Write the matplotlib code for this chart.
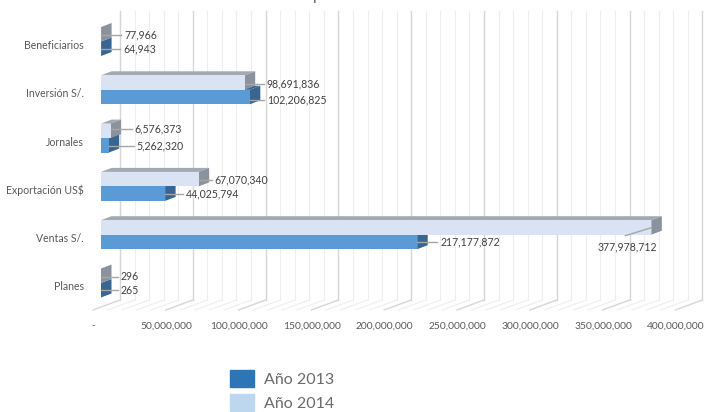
import matplotlib
matplotlib.use("Agg")
import matplotlib.pyplot as plt
from matplotlib.patches import Patch, Polygon

plt.rcParams['font.family'] = ['Lato', 'DejaVu Sans']

categories = ['Planes', 'Ventas S/.', 'Exportación US$', 'Jornales', 'Inversión S/.', 'Beneficiarios']
anio_2013 = [265, 217177872, 44025794, 5262320, 102206825, 64943]
anio_2014 = [296, 377978712, 67070340, 6576373, 98691836, 77966]
ticks = [0, 50000000, 100000000, 150000000, 200000000, 250000000, 300000000, 350000000, 400000000]
tick_labels = ['-', '50,000,000', '100,000,000', '150,000,000', '200,000,000',
               '250,000,000', '300,000,000', '350,000,000', '400,000,000']

# pixels per unit on each axis, the picture is a fake 3D chart
PX_X = 1.456e-6
PX_Y = 48.3
ZERO_X = 101
ZERO_Y = 283

fig = plt.figure(figsize=(7.05, 4.12), dpi=100)
ax = fig.add_axes([0, 0, 1, 1])
ax.set_xlim(-ZERO_X / PX_X, (705 - ZERO_X) / PX_X)
ax.set_ylim((ZERO_Y - 412) / PX_Y, ZERO_Y / PX_Y)
ax.axis('off')

def dx(px):
    return px / PX_X

def dy(px):
    return px / PX_Y

wall_top = ZERO_Y / PX_Y - dy(11)
wall_bottom = ZERO_Y / PX_Y - dy(300)
floor_bottom = ZERO_Y / PX_Y - dy(310)
axis_y = ZERO_Y / PX_Y - dy(326)

# back wall grid and floor lines
for v in range(0, 400000001, 10000000):
    major = v % 50000000 == 0
    col = '#d6d6d6' if major else '#eeeeee'
    lw = 1.0 if major else 0.8
    ax.plot([v + dx(19), v + dx(19)], [wall_top, wall_bottom], color=col, lw=lw, zorder=1)
    ax.plot([v + dx(19), v - dx(8)], [wall_bottom, floor_bottom], color=col, lw=lw, zorder=1)

for v, lab in zip(ticks, tick_labels):
    ax.text(v - dx(7.5), axis_y, lab, ha='center', va='center', fontsize=7.4, color='#595959')

bar_h = dy(14.5)
depth_x = dx(10.5)
depth_y = dy(4)

def draw_bars(values, ypos, front, side, top, z):
    for y, v in zip(ypos, values):
        y0 = y - bar_h / 2
        y1 = y + bar_h / 2
        ax.add_patch(Polygon([(0, y1), (depth_x, y1 + depth_y), (v + depth_x, y1 + depth_y), (v, y1)],
                             color=top, lw=0, zorder=z))
        ax.add_patch(Polygon([(v, y0), (v + depth_x, y0 + depth_y), (v + depth_x, y1 + depth_y), (v, y1)],
                             color=side, lw=0, zorder=z))
        ax.barh(y, v, height=bar_h, color=front, zorder=z)

pos = list(range(len(categories)))
pos_2013 = [p - bar_h / 2 for p in pos]
pos_2014 = [p + bar_h / 2 for p in pos]

draw_bars(anio_2013, pos_2013, '#5b9bd5', '#386591', '#386591', 3)
draw_bars(anio_2014, pos_2014, '#dae3f3', '#8b929d', '#a3a9b3', 4)

for p, c in zip(pos, categories):
    ax.text(-dx(17), p - dy(4), c, ha='right', va='center', fontsize=7.6, color='#595959')

# value labels: gap from bar end to text and height from the category centre, in pixels
gap_2013 = [20, 23, 21, 28, 17, 22]
rise_2013 = [7, 7, 7.5, 8, 10, 7.5]
gap_2014 = [20, -24, 16, 24, 22, 23]
rise_2014 = [-6, 12, -6.5, -9, -6, -6.5]

def draw_labels(values, gaps, rises):
    for p, v, g, r in zip(pos, values, gaps, rises):
        y = p - dy(r)
        txt = f"{v:,}"
        if g < 0:
            # the long bar has its label underneath with a slanted leader
            ax.plot([v, v + dx(g - 2)], [p + dy(7), p - dy(1)], color='#a6a6a6', lw=1, zorder=5)
            ax.text(v + dx(g), y, txt, ha='center', va='center', fontsize=7.6, color='#404040', zorder=5)
        else:
            ax.plot([v, v + dx(g - 3)], [y, y], color='#a6a6a6', lw=1, zorder=5)
            ax.text(v + dx(g), y, txt, ha='left', va='center', fontsize=7.6, color='#404040', zorder=5)

draw_labels(anio_2013, gap_2013, rise_2013)
draw_labels(anio_2014, gap_2014, rise_2014)

# only the tail of the title survives the crop
ax.text(313 / 705, 1.0, 'p', transform=ax.transAxes, ha='left', va='baseline',
        fontsize=11, color='#595959', clip_on=False)

handles = [Patch(color='#2e75b6'), Patch(color='#bdd7ee')]
ax.legend(handles, ['Año 2013', 'Año 2014'], loc='upper left',
          bbox_to_anchor=(230 / 705, 1 - 369.5 / 412), frameon=False, fontsize=11.5,
          handlelength=1.5, handleheight=1.3, labelspacing=0.42, handletextpad=0.62,
          borderpad=0, borderaxespad=0, labelcolor='#6b6b6b')

fig.savefig('out.png', dpi=100)
